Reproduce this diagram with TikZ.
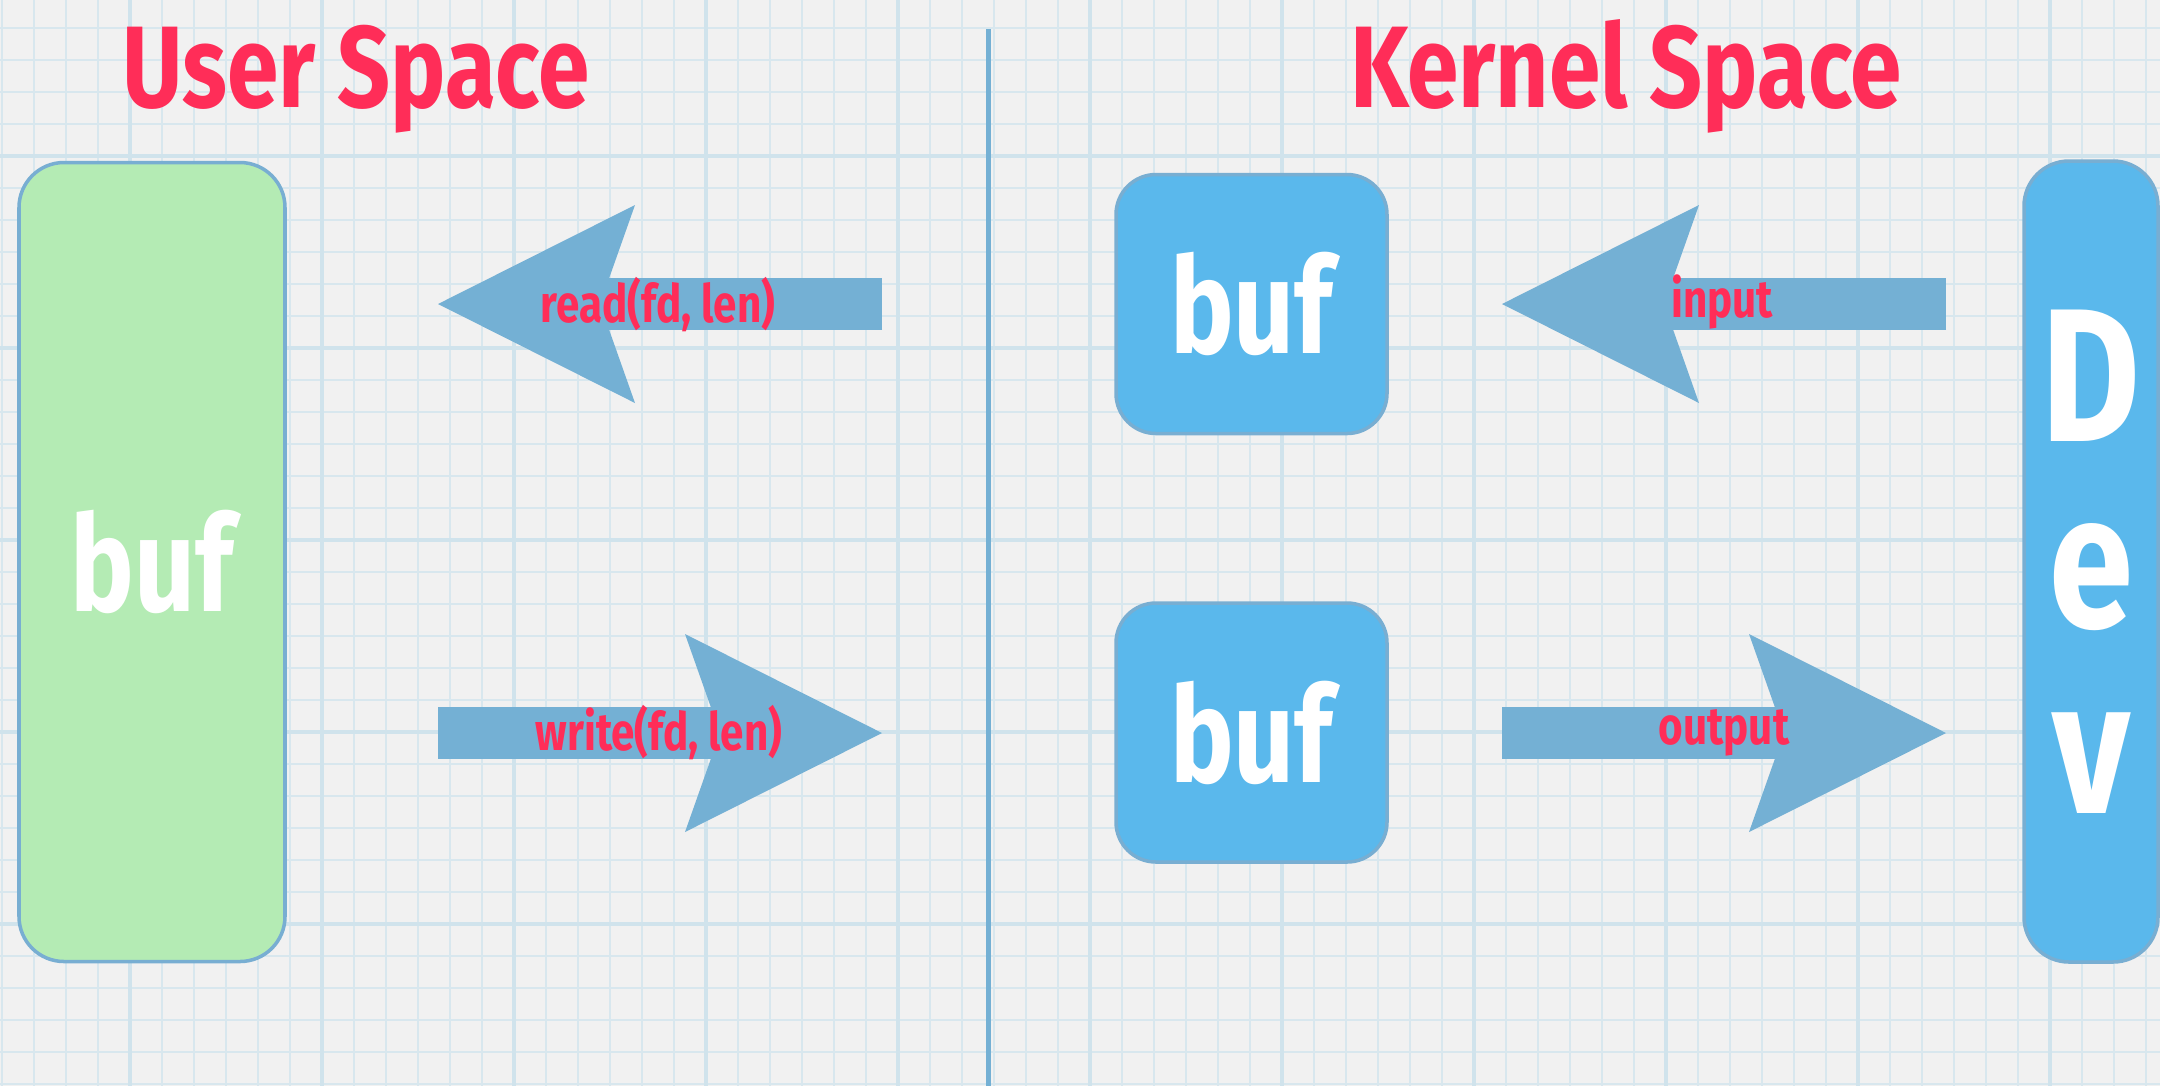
\documentclass[tikz,border=0pt]{standalone}
\usepackage{fontspec}
\newfontfamily\handfont{Fira Sans}[FakeStretch=0.8]
\usetikzlibrary{arrows.meta}

\definecolor{paper}{RGB}{241,241,241}
\definecolor{gridblue}{RGB}{216,231,238}
\definecolor{gridmajor}{RGB}{208,227,236}
\definecolor{arrowblue}{RGB}{116,176,212}
\definecolor{titlered}{RGB}{255,45,88}
\definecolor{usergreen}{RGB}{180,235,180}
\definecolor{kernblue}{RGB}{90,184,236}
\definecolor{boxline}{RGB}{120,174,210}

\tikzset{
  gridline/.style={draw=gridblue, line width=0.2mm},
  gridbold/.style={draw=gridmajor, line width=0.4mm},
  divider/.style={draw=arrowblue, line width=0.5mm},
  title/.style={text=titlered, anchor=base,
    font=\handfont\bfseries\fontsize{33}{33}\selectfont},
  bufbox/.style={draw=boxline, line width=1pt, rounded corners=4.5mm,
    inner sep=0pt, text=white,
    font=\handfont\bfseries\fontsize{38}{38}\selectfont},
  userbuf/.style={bufbox, fill=usergreen,
    minimum width=26.6mm, minimum height=79.9mm},
  kernbuf/.style={bufbox, fill=kernblue, rounded corners=4mm,
    minimum width=27.1mm, minimum height=25.9mm},
  devbox/.style={bufbox, fill=kernblue, align=center,
    minimum width=13.4mm, minimum height=80.1mm,
    font=\handfont\bfseries\fontsize{54}{53}\selectfont},
  fatarrow/.style={draw=arrowblue, line width=5.2mm,
    -{Stealth[length=19.7mm, width=19.8mm, inset=3.5mm,
      line width=0pt, fill=arrowblue]}},
  calllabel/.style={text=titlered,
    font=\handfont\bfseries\fontsize{15}{15}\selectfont},
}

\begin{document}
\begin{tikzpicture}[x=0.1mm, y=-0.1mm]
  \useasboundingbox (0,0) rectangle (2160,1086);
  % paper
  \fill[paper] (0,0) rectangle (2160,1086);
  \foreach \gx in {2,34,...,2160}
    \draw[gridline] (\gx,0) -- (\gx,1086);
  \foreach \gy in {28,60,...,1086}
    \draw[gridline] (0,\gy) -- (2160,\gy);
  \foreach \gx in {130,322,...,2160}
    \draw[gridbold] (\gx,0) -- (\gx,1086);
  \foreach \gy in {156,348,...,1086}
    \draw[gridbold] (0,\gy) -- (2160,\gy);

  % titles and divider
  \node[title] (usertitle) at (356,107) {User Space};
  \node[title] (kerntitle) at (1626,107) {Kernel Space};
  \coordinate (divtop) at (988,29);
  \coordinate (divbot) at (988,1086);
  \draw[divider] (divtop) -- (divbot);

  % buffers
  \node[userbuf] (ubuf) at (152,562) {buf};
  \node[kernbuf] (kbufin) at (1251.5,304) {buf};
  \node[kernbuf] (kbufout) at (1251.5,732.5) {buf};
  \node[devbox] (dev) at (2091,561.5) {D\\e\\v};

  % calls
  \coordinate (readtail) at (882,304);
  \coordinate (readtip) at (438,304);
  \coordinate (writetail) at (438,733);
  \coordinate (writetip) at (882,733);
  \coordinate (intail) at (1946,304);
  \coordinate (intip) at (1502,304);
  \coordinate (outtail) at (1502,733);
  \coordinate (outtip) at (1946,733);
  \draw[fatarrow] (readtail) -- (readtip);
  \draw[fatarrow] (writetail) -- (writetip);
  \draw[fatarrow] (intail) -- (intip);
  \draw[fatarrow] (outtail) -- (outtip);
  \node[calllabel] (readlbl) at (658,305) {read(fd, len)};
  \node[calllabel] (writelbl) at (659,733) {write(fd, len)};
  \node[calllabel] (inlbl) at (1722,302) {input};
  \node[calllabel] (outlbl) at (1724,733) {output};
\end{tikzpicture}
\end{document}
